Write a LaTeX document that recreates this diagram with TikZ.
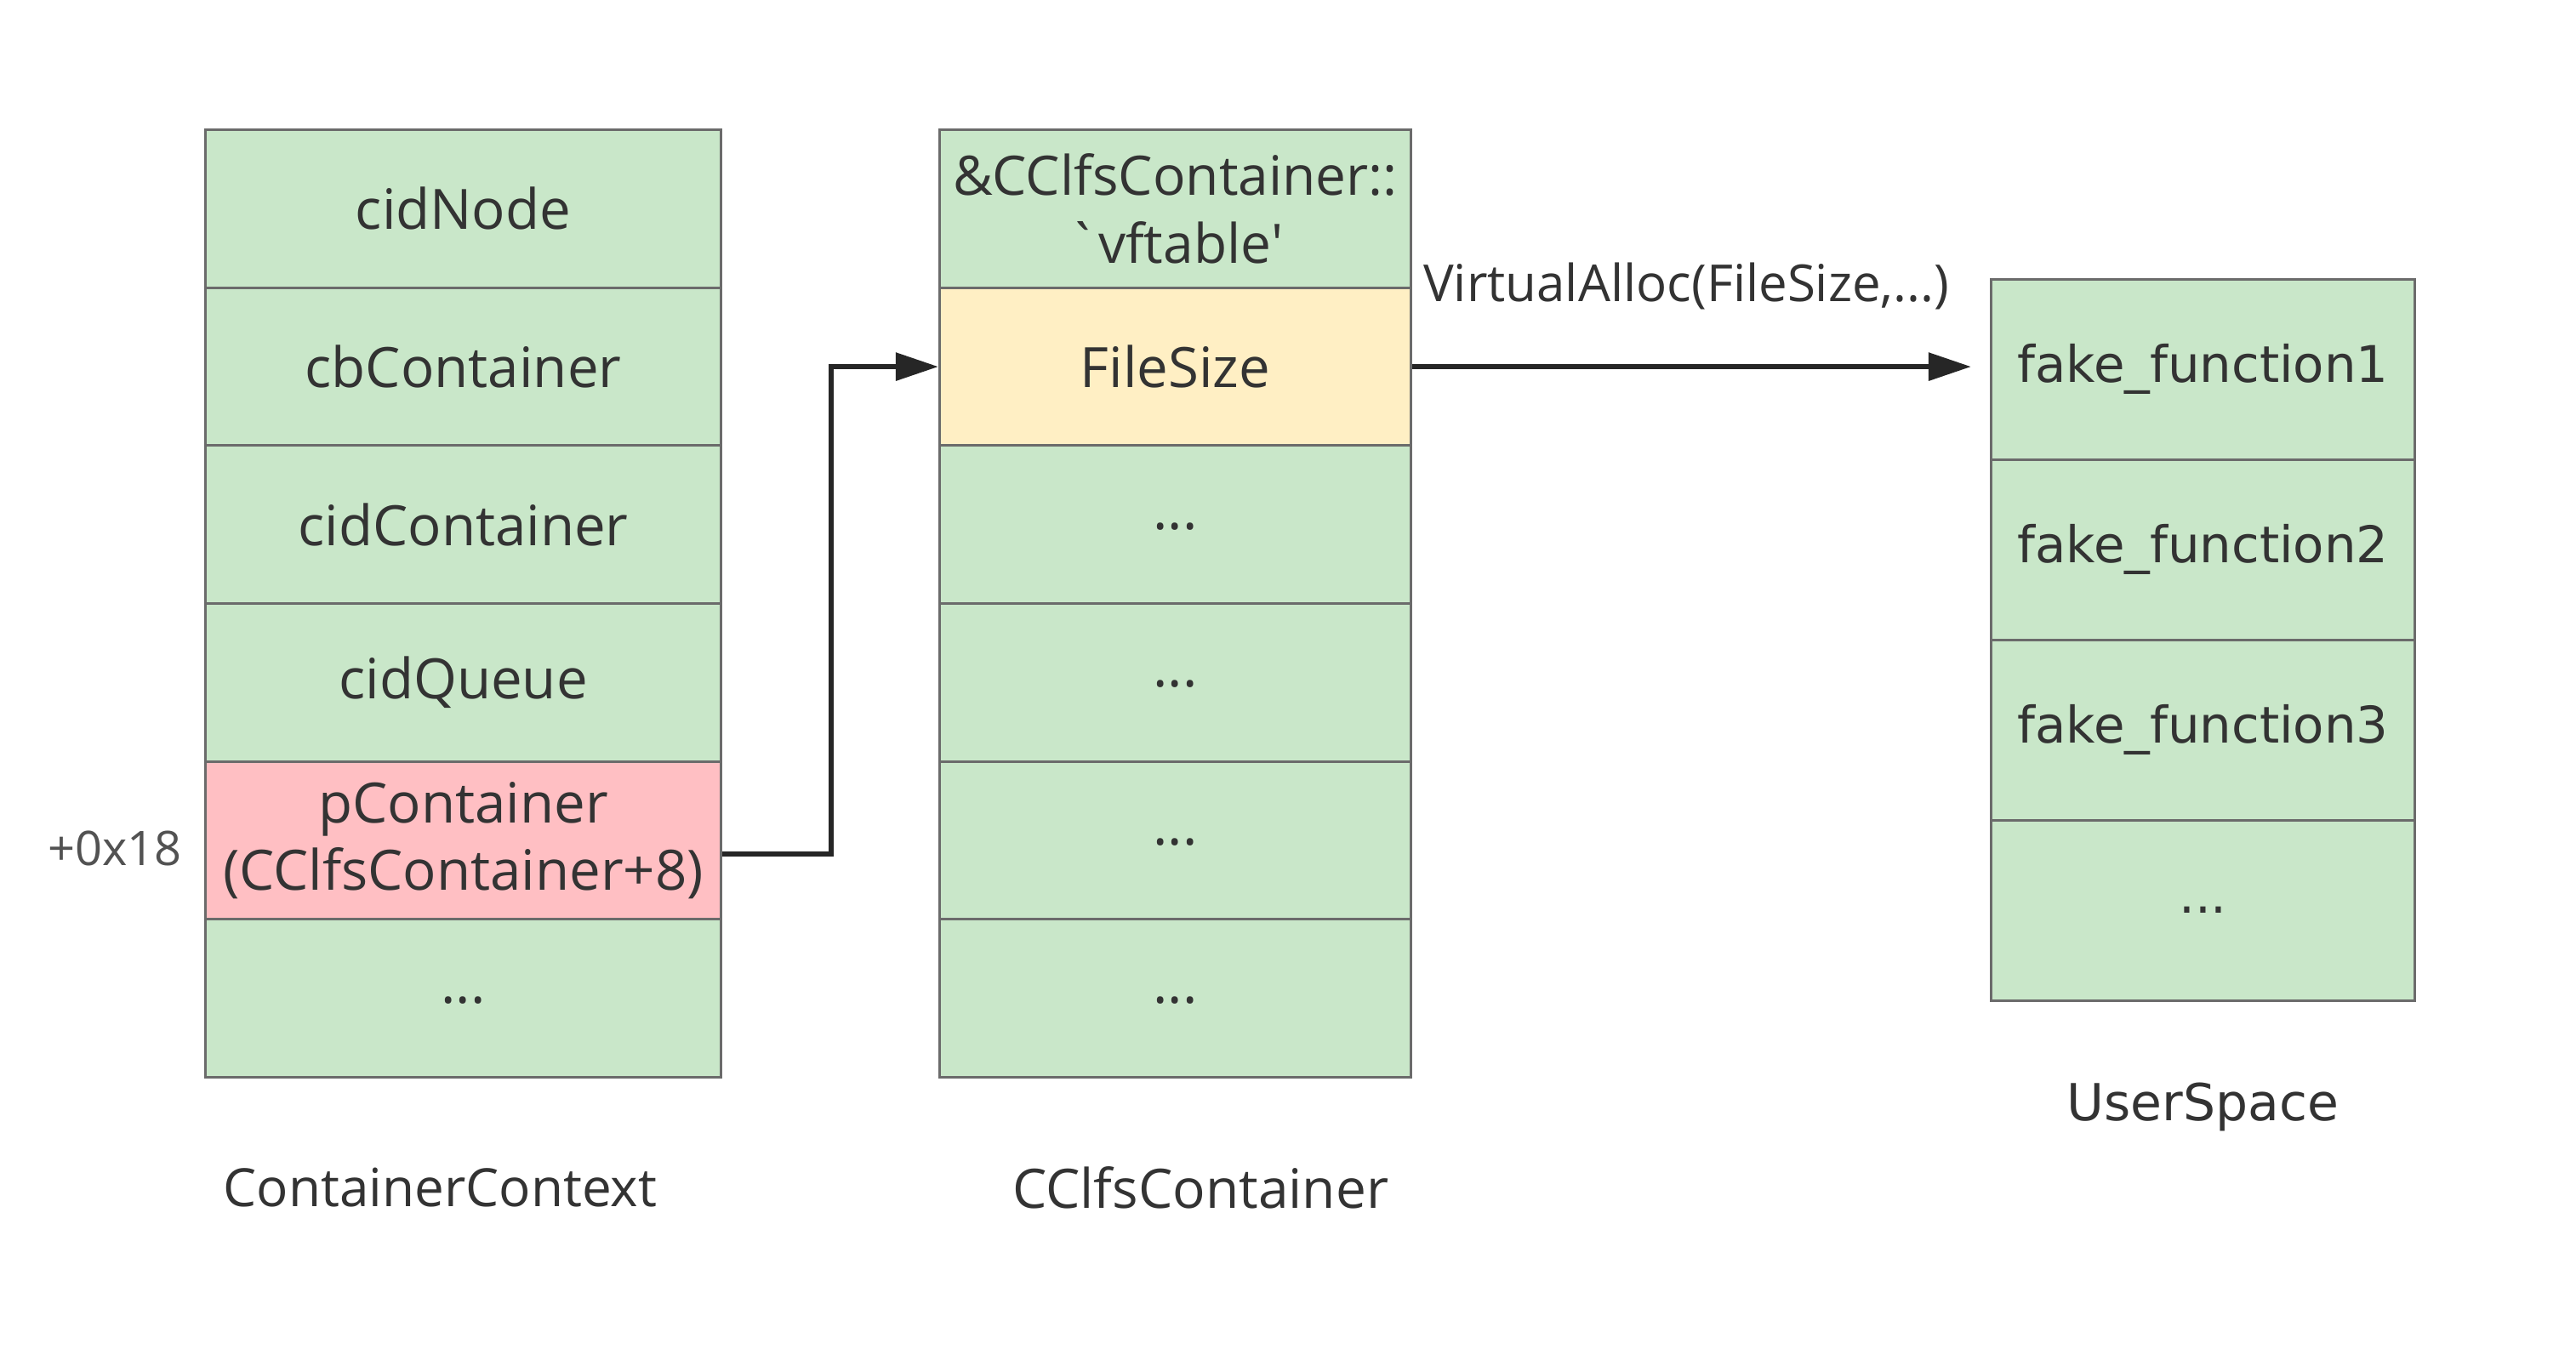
\documentclass[tikz,border=0pt]{standalone}
\usepackage{fontspec}
\setmainfont{Open Sans}
\newfontfamily\dvs{DejaVu Sans}
\usetikzlibrary{arrows.meta}
\definecolor{cgreen}{HTML}{C9E7C9}
\definecolor{cpink}{HTML}{FFBFC3}
\definecolor{cyellow}{HTML}{FFEFC4}
\definecolor{cborder}{HTML}{6B6B6B}
\definecolor{ctext}{HTML}{333333}
\tikzset{
  cell/.style={draw=cborder, line width=1.5pt, fill=cgreen, inner sep=0pt,
    align=center, text=ctext, font=\fontsize{32.7}{39.5}\selectfont},
  lcell/.style={cell, minimum width=303.2pt, minimum height=92.8pt},
  mcell/.style={cell, minimum width=277pt, minimum height=92.8pt},
  rcell/.style={cell, minimum width=249.2pt, minimum height=106pt, font=\dvs\fontsize{29.7}{36}\selectfont},
  lbl/.style={text=ctext, inner sep=0pt},
  conn/.style={draw=black!85, line width=3pt, -{Triangle[length=25pt,width=16pt]}}
}
\begin{document}
\begin{tikzpicture}[x=0.4955pt,y=-0.4955pt]
\path[use as bounding box, fill=white] (0pt,0pt) rectangle (1514pt,-796pt);
% left column
\node[lcell] (cn) at (549.5,247.65) {cidNode};
\node[lcell] (cb) at (549.5,435) {cbContainer};
\node[lcell] (cc) at (549.5,622.3) {cidContainer};
\node[lcell] (cq) at (549.5,809.6) {cidQueue};
\node[lcell, fill=cpink] (pc) at (549.5,996.9) {pContainer\\(CClfsContainer+8)};
\node[lcell] (ld) at (549.5,1184.2) {\raisebox{-6pt}{...}};
% middle column
\node[mcell, font=\fontsize{32}{40}\selectfont] (vt) at (1394,247.65) {\&CClfsContainer::\\\textasciigrave vftable\textquotesingle};
\node[mcell, fill=cyellow] (fs) at (1394,435) {FileSize};
\node[mcell] (m3) at (1394,622.3) {\raisebox{-6pt}{...}};
\node[mcell] (m4) at (1394,809.6) {\raisebox{-6pt}{...}};
\node[mcell] (m5) at (1394,996.9) {\raisebox{-6pt}{...}};
\node[mcell] (m6) at (1394,1184.2) {\raisebox{-6pt}{...}};
% right column
\node[rcell] (f1) at (2613,438) {fake\_function1};
\node[rcell] (f2) at (2613,652) {fake\_function2};
\node[rcell] (f3) at (2613,866) {fake\_function3};
\node[rcell] (f4) at (2613,1080) {...};
% labels
\node[lbl, font=\fontsize{28}{34}\selectfont, text=ctext!85] (off) at (136,1007) {+0x18};
\node[lbl, font=\fontsize{31}{38}\selectfont] (t1) at (522,1409) {ContainerContext};
\node[lbl, font=\fontsize{32}{38}\selectfont] (t2) at (1424,1409) {CClfsContainer};
\node[lbl, font=\dvs\fontsize{30}{36}\selectfont] (t3) at (2613,1313) {UserSpace};
\node[lbl, anchor=west, font=\fontsize{30}{36}\selectfont] (va) at (1688,339) {VirtualAlloc(FileSize,...)};
% connectors
\coordinate (j) at (986,0);
\coordinate (tip) at (2338,0);
\draw[conn] ([yshift=-8pt]pc.east) -| (j |- fs.west) -- (fs.west);
\draw[conn] (fs.east) -- (fs.east -| tip);
\end{tikzpicture}
\end{document}
